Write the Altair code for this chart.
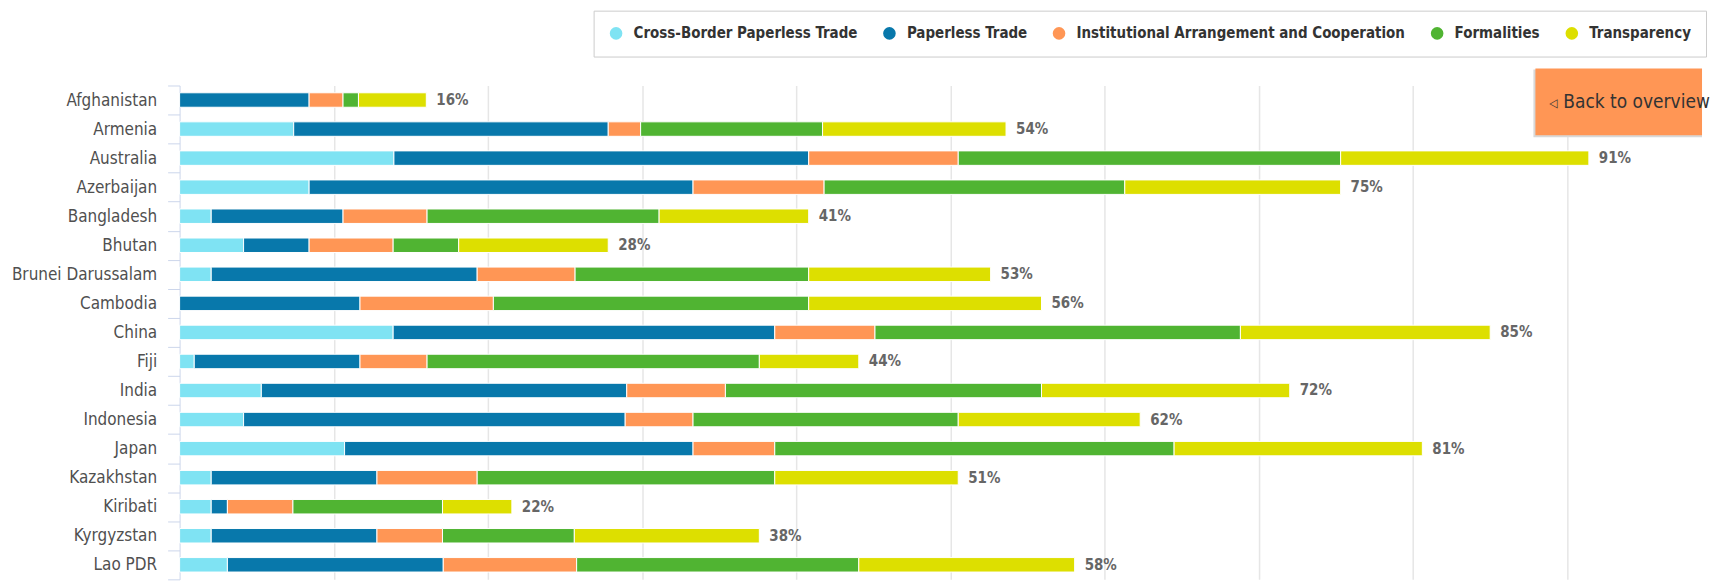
import altair as alt
import pandas as pd

countries = ["Afghanistan", "Armenia", "Australia", "Azerbaijan", "Bangladesh", "Bhutan",
             "Brunei Darussalam", "Cambodia", "China", "Fiji", "India", "Indonesia", "Japan",
             "Kazakhstan", "Kiribati", "Kyrgyzstan", "Lao PDR"]

cross_border = [0, 7.4, 13.9, 8.4, 2.05, 4.15, 2.05, 0, 13.85, 0.95, 5.3, 4.15, 10.7, 2.05, 2.05, 2.05, 3.1]
paperless = [8.4, 20.4, 26.9, 24.9, 8.55, 4.25, 17.25, 11.7, 24.75, 10.75, 23.7, 24.75, 22.6, 10.75, 1.05, 10.75, 14.0]
institutional = [2.2, 2.1, 9.7, 8.5, 5.45, 5.45, 6.35, 8.65, 6.5, 4.35, 6.4, 4.4, 5.3, 6.5, 4.25, 4.25, 8.65]
formalities = [1.0, 11.8, 24.8, 19.5, 15.05, 4.25, 15.15, 20.45, 23.7, 21.55, 20.5, 17.2, 25.9, 19.3, 9.7, 8.55, 18.3]
transparency = [4.4, 11.9, 16.1, 14.0, 9.7, 9.7, 11.8, 15.1, 16.2, 6.45, 16.1, 11.8, 16.1, 11.9, 4.5, 12.0, 14.0]
total_labels = [16, 54, 91, 75, 41, 28, 53, 56, 85, 44, 72, 62, 81, 51, 22, 38, 58]

series_names = ["Cross-Border Paperless Trade", "Paperless Trade",
                "Institutional Arrangement and Cooperation", "Formalities", "Transparency"]
series_colors = ["#7fe3f3", "#0878ab", "#ff9655", "#50b432", "#dddf00"]
series_values = [cross_border, paperless, institutional, formalities, transparency]

rows = []
for si, (name, vals) in enumerate(zip(series_names, series_values)):
    for c, v in zip(countries, vals):
        rows.append({"country": c, "pillar": name, "value": v, "idx": si})
df = pd.DataFrame(rows)

totals = pd.DataFrame({
    "country": countries,
    "total": [sum(s[i] for s in series_values) for i in range(len(countries))],
    "label": [f"{t}%" for t in total_labels],
})

W = 1526
H = 495
XMAX = W / 15.455
FONT = "DejaVu Sans Condensed, Liberation Sans Narrow, sans-serif"

yscale = alt.Scale(domain=countries, paddingInner=0, paddingOuter=0)
xscale = alt.Scale(domain=[0, XMAX], nice=False, zero=True)

bars = alt.Chart(df).mark_bar(size=14.5, stroke="white", strokeWidth=1).encode(
    y=alt.Y("country:N", scale=yscale, sort=countries, title=None,
            axis=alt.Axis(tickBand="extent", domainColor="#ccd6eb", tickColor="#ccd6eb",
                          tickSize=12, labelPadding=11, labelFont=FONT, labelFontSize=17,
                          labelColor="#505050", minExtent=172, maxExtent=172, grid=False)),
    x=alt.X("value:Q", stack="zero", scale=xscale, title=None,
            axis=alt.Axis(values=[10, 20, 30, 40, 50, 60, 70, 80, 90], labels=False, ticks=False,
                          domain=False, gridColor="#e6e6e6", gridWidth=1.5,
                          minExtent=0, maxExtent=0)),
    color=alt.Color("pillar:N", scale=alt.Scale(domain=series_names, range=series_colors),
                    legend=alt.Legend(title=None, orient="none", direction="horizontal",
                                      legendX=415, legendY=-75, symbolType="circle",
                                      symbolSize=160, symbolStrokeWidth=0, labelFont=FONT,
                                      labelFontSize=15, labelFontWeight="bold",
                                      labelColor="#333333", labelOffset=10, columnPadding=24,
                                      padding=15, strokeColor="#cccccc", fillColor="white",
                                      labelLimit=0)),
    order=alt.Order("idx:Q", sort="ascending"),
)

labels = alt.Chart(totals).mark_text(align="left", baseline="middle", dx=10, font=FONT,
                                     fontSize=15, fontWeight="bold", color="#666666").encode(
    y=alt.Y("country:N", scale=yscale, sort=countries),
    x=alt.X("total:Q", scale=xscale),
    text="label:N",
)

btn_df = pd.DataFrame({"t": ["Back to overview"], "a": ["◁"]})
btn_shadow = alt.Chart(btn_df).mark_rect(color="#d8d8d8").encode(
    x=alt.value(1357), x2=alt.value(W), y=alt.value(-16), y2=alt.value(52))
btn = alt.Chart(btn_df).mark_rect(color="#ff9655").encode(
    x=alt.value(1359), x2=alt.value(W), y=alt.value(-17), y2=alt.value(50))
btn_arrow = alt.Chart(btn_df).mark_text(align="left", baseline="middle", font=FONT,
                                        fontSize=12, color="#333333").encode(
    x=alt.value(1373), y=alt.value(18), text="a:N")
btn_text = alt.Chart(btn_df).mark_text(align="left", baseline="middle", font=FONT,
                                       fontSize=19, color="#333333").encode(
    x=alt.value(1387), y=alt.value(17), text="t:N")

chart = alt.layer(bars, labels, btn_shadow, btn, btn_arrow, btn_text).properties(
    width=W, height=H, padding={"top": 1, "left": 0, "right": 0, "bottom": 0}
).configure_view(stroke=None)

chart.save("out.html", embed_options={"renderer": "svg", "actions": False})
